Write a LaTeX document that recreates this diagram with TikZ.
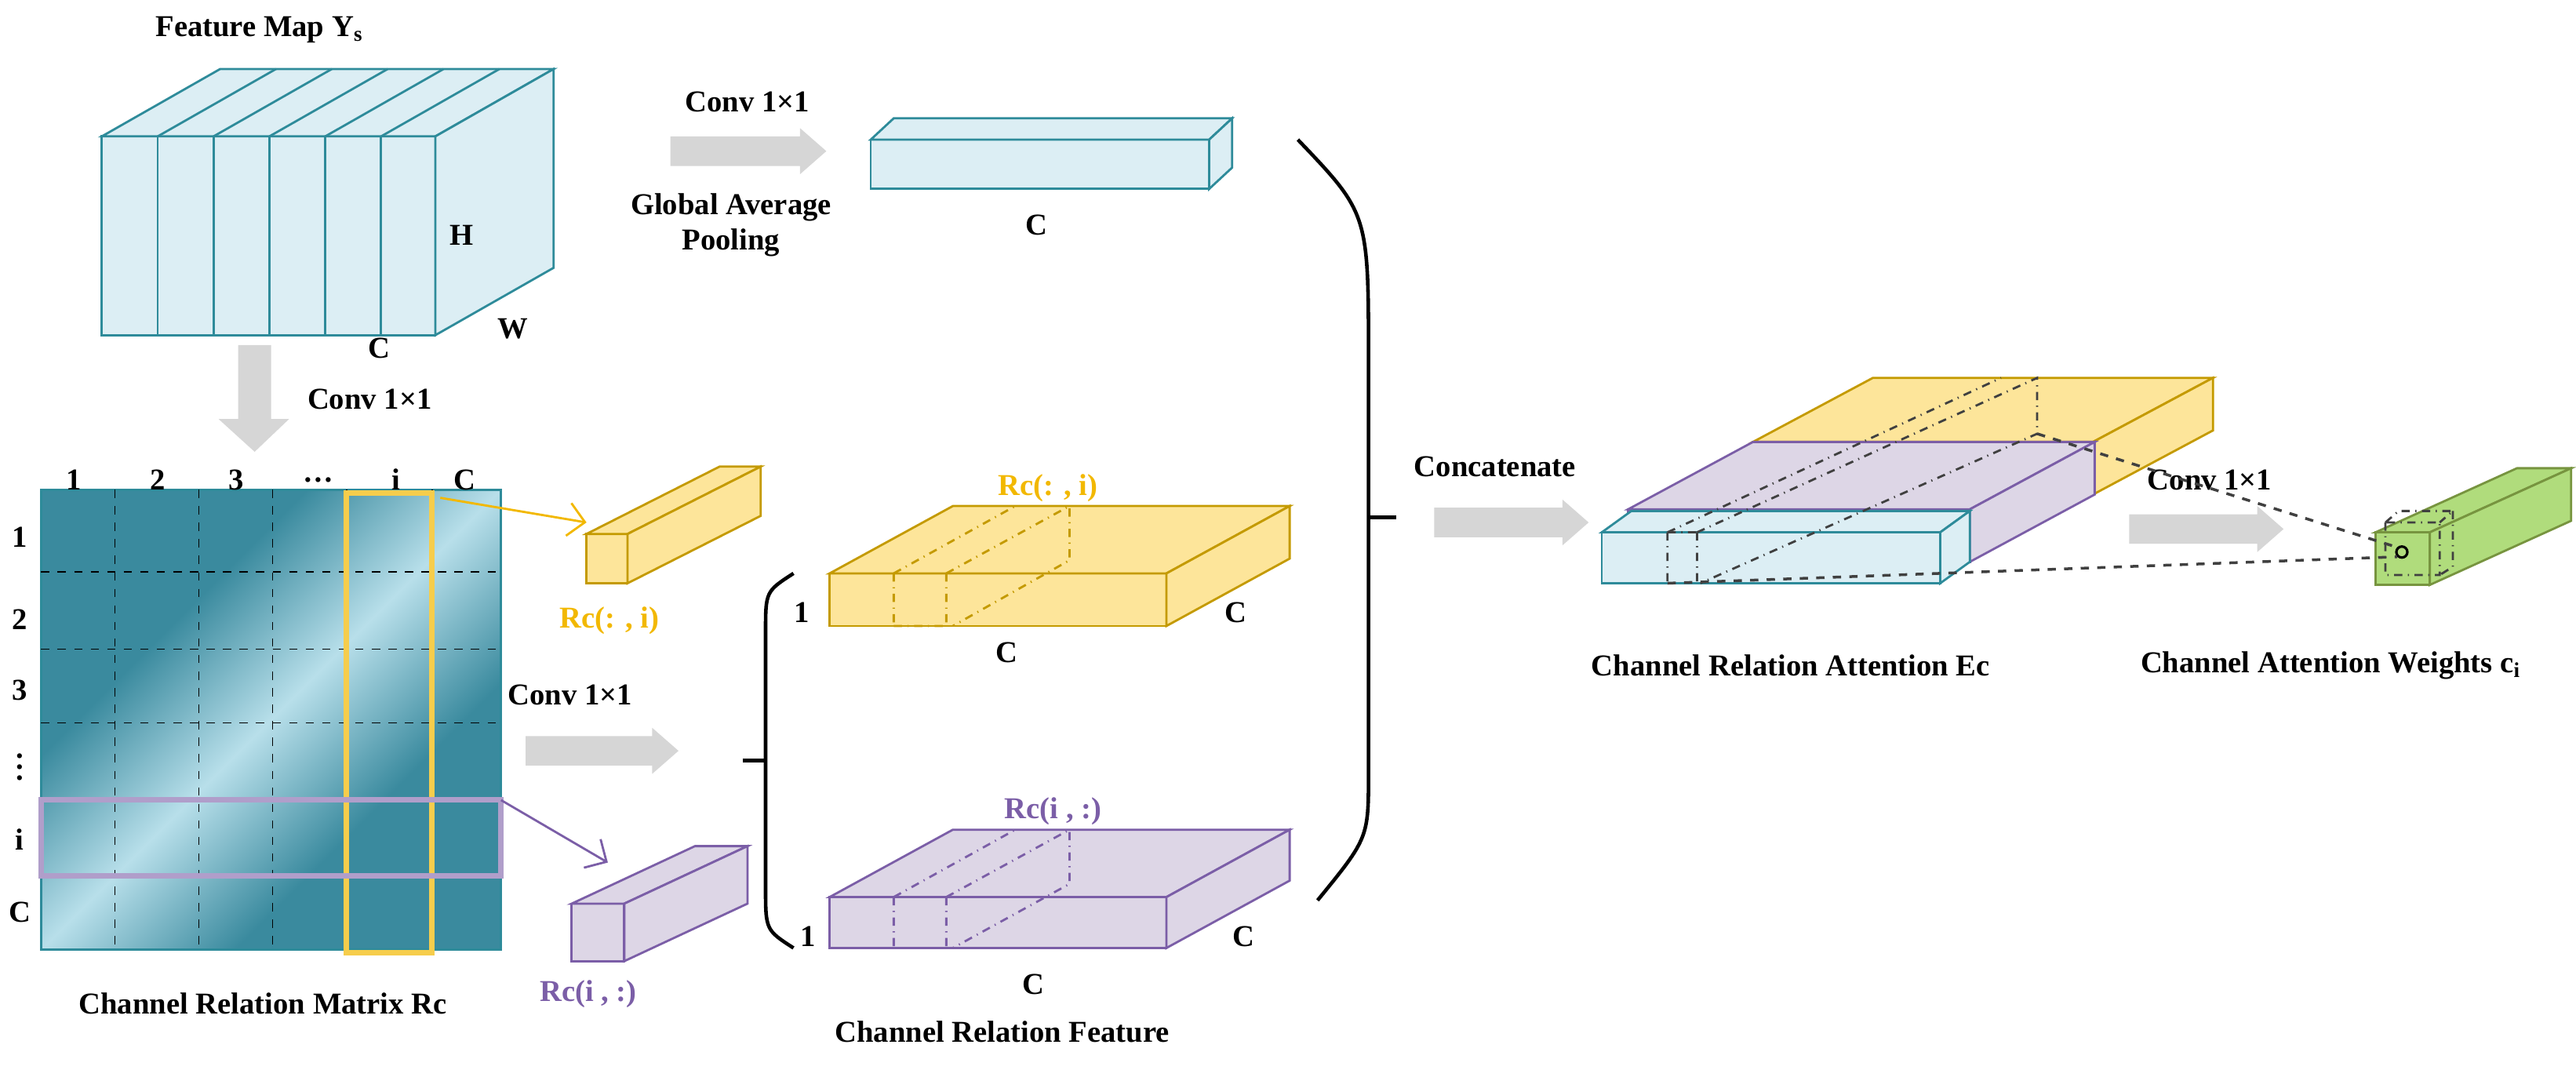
\documentclass[tikz,border=0pt]{standalone}
\usepackage{fontspec}
\setmainfont{Liberation Serif}
\usetikzlibrary{arrows.meta,positioning}
\definecolor{tealline}{HTML}{2E8B9A}
\definecolor{tealfill}{HTML}{DCEEF4}
\definecolor{goldline}{HTML}{C49A00}
\definecolor{goldfill}{HTML}{FDE59A}
\definecolor{goldtext}{HTML}{F2B800}
\definecolor{violine}{HTML}{7B5EA7}
\definecolor{viofill}{HTML}{DDD6E6}
\definecolor{greenline}{HTML}{77943F}
\definecolor{greenfill}{HTML}{B0DC7C}
\definecolor{matdark}{HTML}{3A8A9E}
\definecolor{matlight}{HTML}{B8DFEA}
\definecolor{arrgray}{HTML}{D6D6D6}
\pgfdeclarehorizontalshading{matgrad}{100bp}{color(0bp)=(matdark); color(35bp)=(matdark); color(50bp)=(matlight); color(65bp)=(matdark); color(100bp)=(matdark)}
% cuboid: x, y (front top left), w, h, dx, dy, style
\newcommand\cuboid[7]{%
  \draw[#7] (#1,#2) rectangle ++(#3,#4);
  \draw[#7] (#1,#2) -- ++(#5,#6) -- ++(#3,0) -- ++(-#5,-#6) -- cycle;
  \draw[#7] (#1+#3,#2) -- ++(#5,#6) -- ++(0,#4) -- ++(-#5,-#6) -- cycle;}
% gray arrow: x, y (centre of tail), length
\newcommand\garrow[3]{%
  \fill[arrgray] (#1,#2-9) -- ++(#3-16,0) -- ++(0,-5) -- (#1+#3,#2) -- (#1+#3-16,#2+14) -- ++(0,-5) -- (#1,#2+9) -- cycle;}
\begin{document}
\begin{tikzpicture}[x=0.020944cm,y=-0.020944cm,font=\fontsize{11}{13}\selectfont\bfseries,
  teal/.style={draw=tealline,fill=tealfill,line width=0.8pt},
  gold/.style={draw=goldline,fill=goldfill,line width=0.8pt},
  vio/.style={draw=violine,fill=viofill,line width=0.8pt},
  green/.style={draw=greenline,fill=greenfill,line width=0.8pt},
  slice/.style={dash dot,line width=0.8pt},
  lbl/.style={inner sep=1pt}]
\useasboundingbox (0,0) rectangle (1568,651);

% feature map
\node[lbl] (fmt) at (158,18) {Feature Map Y\textsubscript{s}};
\cuboid{62}{83}{203}{121}{72}{-41}{teal}
\foreach \x in {96,130,164,198,232} {
  \draw[tealline,line width=0.8pt] (\x,83) -- ++(0,121);
  \draw[tealline,line width=0.8pt] (\x,83) -- ++(72,-41);
}
\node[lbl] (fh) at (281,143) {H};
\node[lbl] (fw) at (312,200) {W};
\node[lbl] (fc) at (231,212) {C};

% global average pooling
\garrow{408}{92}{95}
\node[lbl] (gconv) at (455,62) {Conv 1×1};
\node[lbl,align=center] (gap) at (445,137) {Global Average\\Pooling};
\cuboid{530}{85}{206}{30}{14}{-13}{teal}
\node[lbl] (vc) at (631,137) {C};

% down to matrix
\fill[arrgray] (145,210) -- (165,210) -- (165,255) -- (176,255) -- (155,275) -- (133,255) -- (145,255) -- cycle;
\node[lbl] (dconv) at (225,243) {Conv 1×1};

% channel relation matrix
\shade[shading=matgrad,shading angle=-45] (25,298) rectangle (305,578);
\draw[tealline,line width=0.8pt] (25,298) rectangle (305,578);
\foreach \x in {70,121,166,211,263} \draw[dashed] (\x,298) -- (\x,578);
\foreach \y in {348,395,440,487,533} \draw[dashed] (25,\y) -- (305,\y);
\draw[goldtext!70,line width=2pt] (211,300) rectangle (263,580);
\draw[violine!60,line width=2pt] (25,487) rectangle (305,533);
\foreach \t/\x in {1/45,2/96,3/144,\ldots/194,i/241,C/283} \node[lbl] at (\x,292) {\t};
\foreach \t/\y in {1/327,2/377,3/420,\vdots/462,i/511,C/555} \node[lbl] at (12,\y) {\t};
\node[lbl] (mt) at (160,611) {Channel Relation Matrix Rc};

% column and row vectors
\coordinate (colsrc) at (268,303);
\coordinate (coldst) at (357,318);
\draw[goldtext,line width=0.8pt,-{Straight Barb[length=6pt]}] (colsrc) -- (coldst);
\cuboid{357}{325}{25}{30}{81}{-41}{gold}
\node[lbl,text=goldtext] (rcol) at (371,378) {Rc(: , i)};
\coordinate (rowsrc) at (305,487);
\coordinate (rowdst) at (370,525);
\draw[violine,line width=0.8pt,-{Straight Barb[length=6pt]}] (rowsrc) -- (rowdst);
\cuboid{348}{550}{32}{35}{75}{-35}{vio}
\node[lbl,text=violine] (rrow) at (358,605) {Rc(i , :)};

\garrow{320}{457}{93}
\node[lbl] (mconv) at (347,423) {Conv 1×1};

% left brace
\draw[line width=1.3pt] (483,349) .. controls (466,360) .. (466,385) -- (466,540) .. controls (466,566) .. (483,577);
\draw[line width=1.3pt] (452,463) -- (466,463);

% channel relation feature
\cuboid{505}{349}{205}{32}{75}{-41}{gold}
\draw[goldline,slice] (544,349) -- ++(0,32) (576,349) -- ++(0,32) (544,381) -- (576,381)
  (544,349) -- (618,308) (576,349) -- (651,308) -- (651,341) -- (580,381);
\node[lbl,text=goldtext] (fcol) at (638,297) {Rc(: , i)};
\node[lbl] at (488,373) {1};
\node[lbl] at (613,397) {C};
\node[lbl] at (752,373) {C};
\cuboid{505}{546}{205}{31}{75}{-41}{vio}
\draw[violine,slice] (544,546) -- ++(0,31) (576,546) -- ++(0,31) (544,577) -- (576,577)
  (544,546) -- (618,505) (576,546) -- (651,505) -- (651,538) -- (580,577);
\node[lbl,text=violine] (frow) at (641,494) {Rc(i , :)};
\node[lbl] at (492,570) {1};
\node[lbl] at (629,599) {C};
\node[lbl] at (757,570) {C};
\node[lbl] (ft) at (610,628) {Channel Relation Feature};

% right bracket
\draw[line width=1.3pt] (790,85) .. controls (833,130) .. (833,220) -- (833,470) .. controls (833,510) .. (802,548);
\draw[line width=1.3pt] (833,315) -- (850,315);

% concatenate
\garrow{873}{318}{94}
\node[lbl] (cat) at (910,284) {Concatenate};
\cuboid{1067}{269}{207}{32}{73}{-39}{gold}
\cuboid{991}{310}{208}{32}{76}{-41}{vio}
\cuboid{975}{324}{206}{31}{18}{-13}{teal}
\draw[black!75,slice] (1015,324) -- ++(0,31) (1033,324) -- ++(0,31) (1015,324) -- (1033,324)
  (1015,324) -- (1218,230) (1033,324) -- (1240,230) -- (1240,264) -- (1035,355);
\node[lbl] (att) at (1090,405) {Channel Relation Attention Ec};

% channel attention weights
\garrow{1296}{322}{94}
\node[lbl] (wconv) at (1345,292) {Conv 1×1};
\cuboid{1446}{324}{33}{32}{86}{-39}{green}
\draw[black!75,slice] (1452,318) rectangle (1485,350) (1452,318) -- (1460,311) -- (1493,311) -- (1485,318) (1493,311) -- (1493,345) -- (1485,350);
\node[draw,circle,inner sep=0pt,minimum size=4pt,line width=0.9pt] (pix) at (1462,336) {};
\coordinate (ecback) at (1240,264);
\coordinate (ecfront) at (1015,355);
\draw[black!75,dashed,line width=1pt] (ecback) -- (pix.north west);
\draw[black!75,dashed,line width=1pt] (ecfront) -- (pix.south west);
\node[lbl,anchor=west] (wt) at (1301,405) {Channel Attention Weights c\textsubscript{i}};
\end{tikzpicture}
\end{document}
